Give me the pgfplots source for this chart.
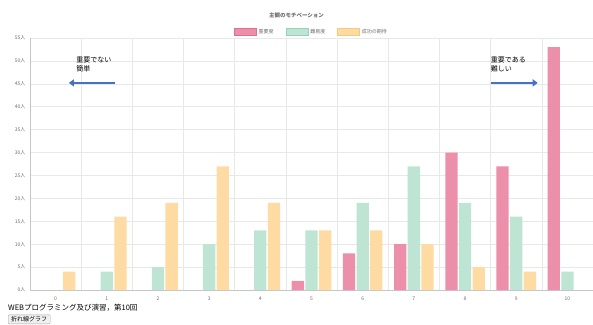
\documentclass[border=0pt]{standalone}
\usepackage{fontspec}
\setmainfont{Noto Sans CJK JP}
\usepackage{pgfplots}
\pgfplotsset{compat=1.18}
\usetikzlibrary{arrows.meta}

\definecolor{impfill}{RGB}{235,143,170}
\definecolor{impline}{RGB}{226,110,145}
\definecolor{difffill}{RGB}{190,228,211}
\definecolor{diffline}{RGB}{150,210,185}
\definecolor{succfill}{RGB}{254,219,163}
\definecolor{succline}{RGB}{250,200,120}
\definecolor{ticktext}{RGB}{110,110,110}
\definecolor{gridc}{RGB}{232,232,232}
\definecolor{arrowblue}{RGB}{68,114,196}

\begin{document}
\begin{tikzpicture}[x=1pt,y=1pt]
\path[use as bounding box] (0,0) rectangle (593,324);

% chart title
\node[font=\fontsize{5.5}{6}\selectfont\bfseries, text=ticktext] at (296.5,309) {主観のモチベーション};

\begin{axis}[
  at={(30pt,34pt)}, anchor=south west,
  scale only axis, width=563pt, height=252pt,
  xmin=-0.5, xmax=10.5, ymin=0, ymax=55,
  xtick={0,...,10}, minor xtick={0.5,1.5,...,10.5},
  xmajorgrids=false, xminorgrids=true, ymajorgrids=true,
  ytick={0,5,...,55},
  yticklabel={\pgfmathprintnumber{\tick}人},
  /pgf/number format/assume math mode=true,
  grid style={gridc, line width=0.5pt},
  minor grid style={gridc, line width=0.5pt},
  axis x line*=bottom, axis y line*=left,
  axis line style={-, draw=gray!45, line width=0.6pt},
  major tick length=0pt, minor tick length=0pt,
  tick label style={font=\fontsize{5}{6}\selectfont, text=ticktext},
  xticklabel style={yshift=-3pt},
  yticklabel style={xshift=-1pt},
  ybar, bar width=12.3pt,
  legend style={at={(0.5,1)}, anchor=south, yshift=1pt, draw=none, fill=none,
    font=\fontsize{5}{6}\selectfont, text=ticktext, inner sep=0pt,
    /tikz/every even column/.append style={column sep=10pt}},
  legend columns=3,
  legend image code/.code={\draw[#1] (0pt,-3.5pt) rectangle (22pt,3.5pt);},
  clip=false,
]
% legend entries
\addlegendimage{fill=impfill, draw=impline, line width=0.6pt}
\addlegendentry{重要度}
\addlegendimage{fill=difffill, draw=diffline, line width=0.6pt}
\addlegendentry{難易度}
\addlegendimage{fill=succfill, draw=succline, line width=0.6pt}
\addlegendentry{成功の期待}

% importance
\addplot[fill=impfill, draw=none, bar shift=-13.65pt, forget plot] coordinates
  {(5,2) (6,8) (7,10) (8,30) (9,27) (10,53)};
% difficulty
\addplot[fill=difffill, draw=none, bar shift=0pt, forget plot] coordinates
  {(1,4) (2,5) (3,10) (4,13) (5,13) (6,19) (7,27) (8,19) (9,16) (10,4)};
% expectation of success
\addplot[fill=succfill, draw=none, bar shift=13.65pt, forget plot] coordinates
  {(0,4) (1,16) (2,19) (3,27) (4,19) (5,13) (6,13) (7,10) (8,5) (9,4)};

% annotation arrows
\draw[arrowblue, line width=2.6pt, -{Triangle[length=5pt,width=7pt]}]
  (axis cs:1.16,45.2) -- (axis cs:0.26,45.2);
\node[anchor=north west, align=left, font=\fontsize{7}{9}\selectfont, inner sep=0pt]
  at (axis cs:0.4,50.9) {重要でない\\簡単};
\draw[arrowblue, line width=2.6pt, -{Triangle[length=5pt,width=7pt]}]
  (axis cs:8.5,45.2) -- (axis cs:9.42,45.2);
\node[anchor=north west, align=left, font=\fontsize{7}{9}\selectfont, inner sep=0pt]
  at (axis cs:8.5,50.9) {重要である\\難しい};
\end{axis}

% page footer
\node[anchor=west, font=\fontsize{7.5}{8}\selectfont, inner sep=0pt] at (8,16) {WEBプログラミング及び演習，第10回};
\node[anchor=south west, draw=gray!70, fill=gray!12, rounded corners=0.8pt,
  font=\fontsize{6}{7}\selectfont, inner xsep=3pt, inner ysep=1.2pt, minimum height=9pt] at (8,0) {折れ線グラフ};
\end{tikzpicture}
\end{document}
